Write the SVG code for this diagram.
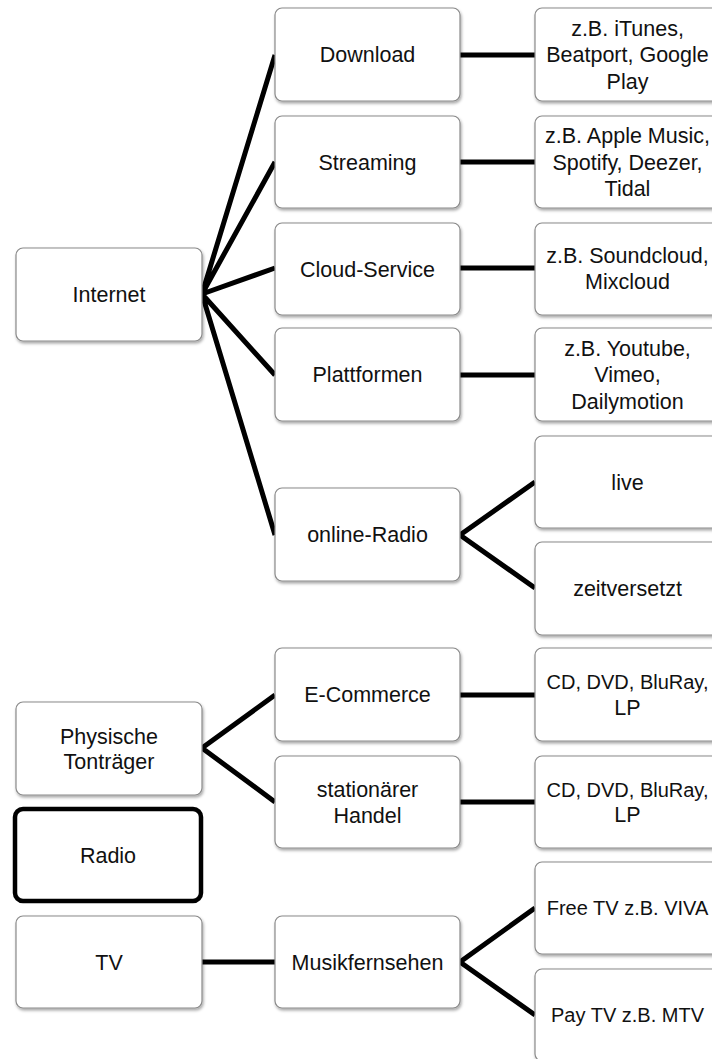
<svg xmlns="http://www.w3.org/2000/svg" width="712" height="1059" viewBox="0 0 712 1059">
<defs>
<filter id="sh" x="-10%" y="-10%" width="125%" height="130%">
<feDropShadow dx="1" dy="2" stdDeviation="1.5" flood-color="#000" flood-opacity="0.35"/>
</filter>
<style>
.box{fill:#fff;stroke:#8a8a8a;stroke-width:1.2;filter:url(#sh)}
.bold{fill:#fff;stroke:#000;stroke-width:4.5}
text{font-family:"Liberation Sans",Arial,sans-serif;font-size:21.5px;fill:#111;text-anchor:middle}
text.s{font-size:20px}
.c{fill:none;stroke:#000;stroke-width:5;stroke-linejoin:miter;stroke-linecap:butt}
</style>
</defs>
<rect width="712" height="1059" fill="#fff"/>
<g id="connectors">
<path class="c" d="M275,55 L202,294 L275,162 M202,294 L275,268 M202,294 L275,375 M202,294 L275,535"/>
<path class="c" d="M460,55 H535 M460,162 H535 M460,268 H535 M460,375 H535"/>
<path class="c" d="M535,482 L460,535 L535,588"/>
<path class="c" d="M275,695 L202,748 L275,802"/>
<path class="c" d="M460,695 H535 M460,802 H535"/>
<path class="c" d="M202,962 H275"/>
<path class="c" d="M535,908 L460,962 L535,1015"/>
</g>
<g id="internet"><rect class="box" x="16" y="248" width="186" height="93" rx="7"/><text x="109" y="302">Internet</text></g>
<g id="download"><rect class="box" x="275" y="8" width="185" height="93" rx="7"/><text x="367.5" y="62">Download</text></g>
<g id="streaming"><rect class="box" x="275" y="116" width="185" height="92" rx="7"/><text x="367.5" y="169.5">Streaming</text></g>
<g id="cloud"><rect class="box" x="275" y="223" width="185" height="92" rx="7"/><text x="367.5" y="276.5">Cloud-Service</text></g>
<g id="plattformen"><rect class="box" x="275" y="328" width="185" height="93" rx="7"/><text x="367.5" y="382">Plattformen</text></g>
<g id="onlineradio"><rect class="box" x="275" y="488" width="185" height="93" rx="7"/><text x="367.5" y="542">online-Radio</text></g>
<g id="itunes"><rect class="box" x="535" y="8" width="185" height="93" rx="7"/><text x="627.5" y="35.5">z.B. iTunes,</text><text x="627.5" y="62">Beatport, Google</text><text x="627.5" y="88.5">Play</text></g>
<g id="apple"><rect class="box" x="535" y="116" width="185" height="92" rx="7"/><text x="627.5" y="143">z.B. Apple Music,</text><text x="627.5" y="169.5">Spotify, Deezer,</text><text x="627.5" y="196">Tidal</text></g>
<g id="soundcloud"><rect class="box" x="535" y="223" width="185" height="92" rx="7"/><text x="627.5" y="262.5">z.B. Soundcloud,</text><text x="627.5" y="289">Mixcloud</text></g>
<g id="youtube"><rect class="box" x="535" y="328" width="185" height="93" rx="7"/><text x="627.5" y="355.5">z.B. Youtube,</text><text x="627.5" y="382">Vimeo,</text><text x="627.5" y="408.5">Dailymotion</text></g>
<g id="live"><rect class="box" x="535" y="436" width="185" height="92" rx="7"/><text x="627.5" y="489.5">live</text></g>
<g id="zeitversetzt"><rect class="box" x="535" y="542" width="185" height="93" rx="7"/><text x="627.5" y="596">zeitversetzt</text></g>
<g id="physische"><rect class="box" x="16" y="702" width="186" height="93" rx="7"/><text x="109" y="743.5">Physische</text><text x="109" y="769">Tonträger</text></g>
<g id="ecommerce"><rect class="box" x="275" y="648" width="185" height="93" rx="7"/><text x="367.5" y="702">E-Commerce</text></g>
<g id="stationaer"><rect class="box" x="275" y="756" width="185" height="92" rx="7"/><text x="367.5" y="797">stationärer</text><text x="367.5" y="822.5">Handel</text></g>
<g id="cd1"><rect class="box" x="535" y="648" width="185" height="93" rx="7"/><text class="s" x="627.5" y="689">CD, DVD, BluRay,</text><text x="627.5" y="714.5">LP</text></g>
<g id="cd2"><rect class="box" x="535" y="756" width="185" height="92" rx="7"/><text class="s" x="627.5" y="796.5">CD, DVD, BluRay,</text><text x="627.5" y="822">LP</text></g>
<g id="radio"><rect class="bold" x="15" y="809" width="186" height="92" rx="8"/><text x="108" y="862.5">Radio</text></g>
<g id="tv"><rect class="box" x="16" y="916" width="186" height="92" rx="7"/><text x="109" y="969.5">TV</text></g>
<g id="musikfernsehen"><rect class="box" x="275" y="916" width="185" height="92" rx="7"/><text x="367.5" y="969.5">Musikfernsehen</text></g>
<g id="freetv"><rect class="box" x="535" y="862" width="185" height="92" rx="7"/><text class="s" x="627.5" y="915">Free TV z.B. VIVA</text></g>
<g id="paytv"><rect class="box" x="535" y="969" width="185" height="92" rx="7"/><text class="s" x="627.5" y="1022">Pay TV z.B. MTV</text></g>
</svg>
